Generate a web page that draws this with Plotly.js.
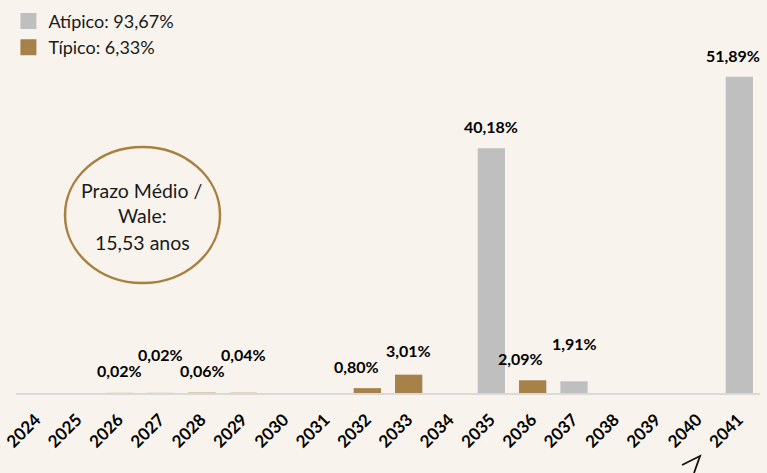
<!DOCTYPE html>
<html>
<head>
<meta charset="utf-8">
<script src="https://cdn.plot.ly/plotly-3.0.1.min.js"></script>
<style>html,body{margin:0;padding:0;background:#f8f4ed;}#chart{width:767px;height:473px;}</style>
</head>
<body>
<div id="chart"></div>
<script>
var years = ['2024','2025','2026','2027','2028','2029','2030','2031','2032','2033','2034','2035','2036','2037','2038','2039','2040','2041'];
var atipico = [null,null,null,null,null,null,null,null,null,null,null,40.18,null,1.91,null,null,null,51.89];
var tipico  = [null,null,0.02,0.02,0.06,0.04,null,null,0.80,3.01,null,null,2.09,null,null,null,null,null];
var seriesNames = ['Atípico: 93,67%','Típico: 6,33%'];
var waleLines = ['Prazo Médio /','Wale:','15,53 anos'];

// label placement offsets (px): [xshift, yshift above bar top]
var labelOffsets = {
  '2026':[0,22],'2027':[0,38],'2028':[0,22],'2029':[0,38],
  '2032':[-11,22],'2033':[0,24],'2035':[0,22],'2036':[-12,22],
  '2037':[0,38],'2041':[-6,21]
};

var cGray = '#bfbfbf', cGold = '#a6824a';

var traces = [
  {type:'bar', x:years, y:atipico, name:seriesNames[0], marker:{color:cGray}, width:0.66, hoverinfo:'skip', showlegend:false},
  {type:'bar', x:years, y:tipico, name:seriesNames[1], marker:{color:cGold}, width:0.66, hoverinfo:'skip', showlegend:false},
  {type:'scatter', mode:'markers', x:[null], y:[null], name:seriesNames[0], marker:{symbol:'square', size:16, color:cGray}},
  {type:'scatter', mode:'markers', x:[null], y:[null], name:seriesNames[1], marker:{symbol:'square', size:16, color:cGold}}
];

function fmt(v){ return v.toFixed(2).replace('.',',') + '%'; }

var annotations = [];
years.forEach(function(yr,i){
  var v = atipico[i] != null ? atipico[i] : tipico[i];
  if (v == null) return;
  var off = labelOffsets[yr] || [0,22];
  annotations.push({x:i, y:v, xref:'x', yref:'y', text:fmt(v), showarrow:false,
    xanchor:'center', yanchor:'middle', xshift:off[0], yshift:off[1],
    font:{family:'Lato, sans-serif', size:16, color:'#000', weight:'bold'}});
});
var waleY = [0.5140, 0.4504, 0.3817];
waleLines.forEach(function(t,i){
  annotations.push({x:0.170, y:waleY[i], xref:'paper', yref:'paper', text:t, showarrow:false,
    xanchor:'center', yanchor:'middle', font:{family:'Lato, sans-serif', size:19.5, color:'#1a1a1a'}});
});

var layout = {
  width:767, height:473,
  paper_bgcolor:'#f8f4ed', plot_bgcolor:'#f8f4ed',
  margin:{l:16, r:7, t:0, b:80, autoexpand:false},
  barmode:'overlay',
  showlegend:true,
  legend:{x:-0.0102, y:0.993, xanchor:'left', yanchor:'top', bgcolor:'rgba(0,0,0,0)',
    font:{family:'Lato, sans-serif', size:18, color:'#1a1a1a'}, tracegroupgap:0, itemwidth:30},
  xaxis:{type:'category', range:[-0.5,17.5], showline:true, linecolor:'#d9d9d9', linewidth:2, automargin:false,
    showgrid:false, zeroline:false, ticks:'', tickangle:-45, ticklabelstandoff:8, ticklabelshift:-1,
    tickfont:{family:'Lato, sans-serif', size:17, color:'#000', weight:'bold'}},
  yaxis:{range:[0,64.5], visible:false, showgrid:false, zeroline:false, automargin:false},
  annotations:annotations,
  shapes:[
    {type:'circle', xref:'paper', yref:'paper', x0:0.0659, x1:0.2742, y0:0.2799, y1:0.626,
     line:{color:'#a8803f', width:2.5}, fillcolor:'rgba(0,0,0,0)'},
    {type:'path', xref:'paper', yref:'paper', path:'M 0.8952 -0.1832 L 0.9194 -0.1603 L 0.9113 -0.2036',
     line:{color:'#111', width:1.8}}
  ]
};

Plotly.newPlot('chart', traces, layout, {staticPlot:true});
</script>
</body>
</html>
